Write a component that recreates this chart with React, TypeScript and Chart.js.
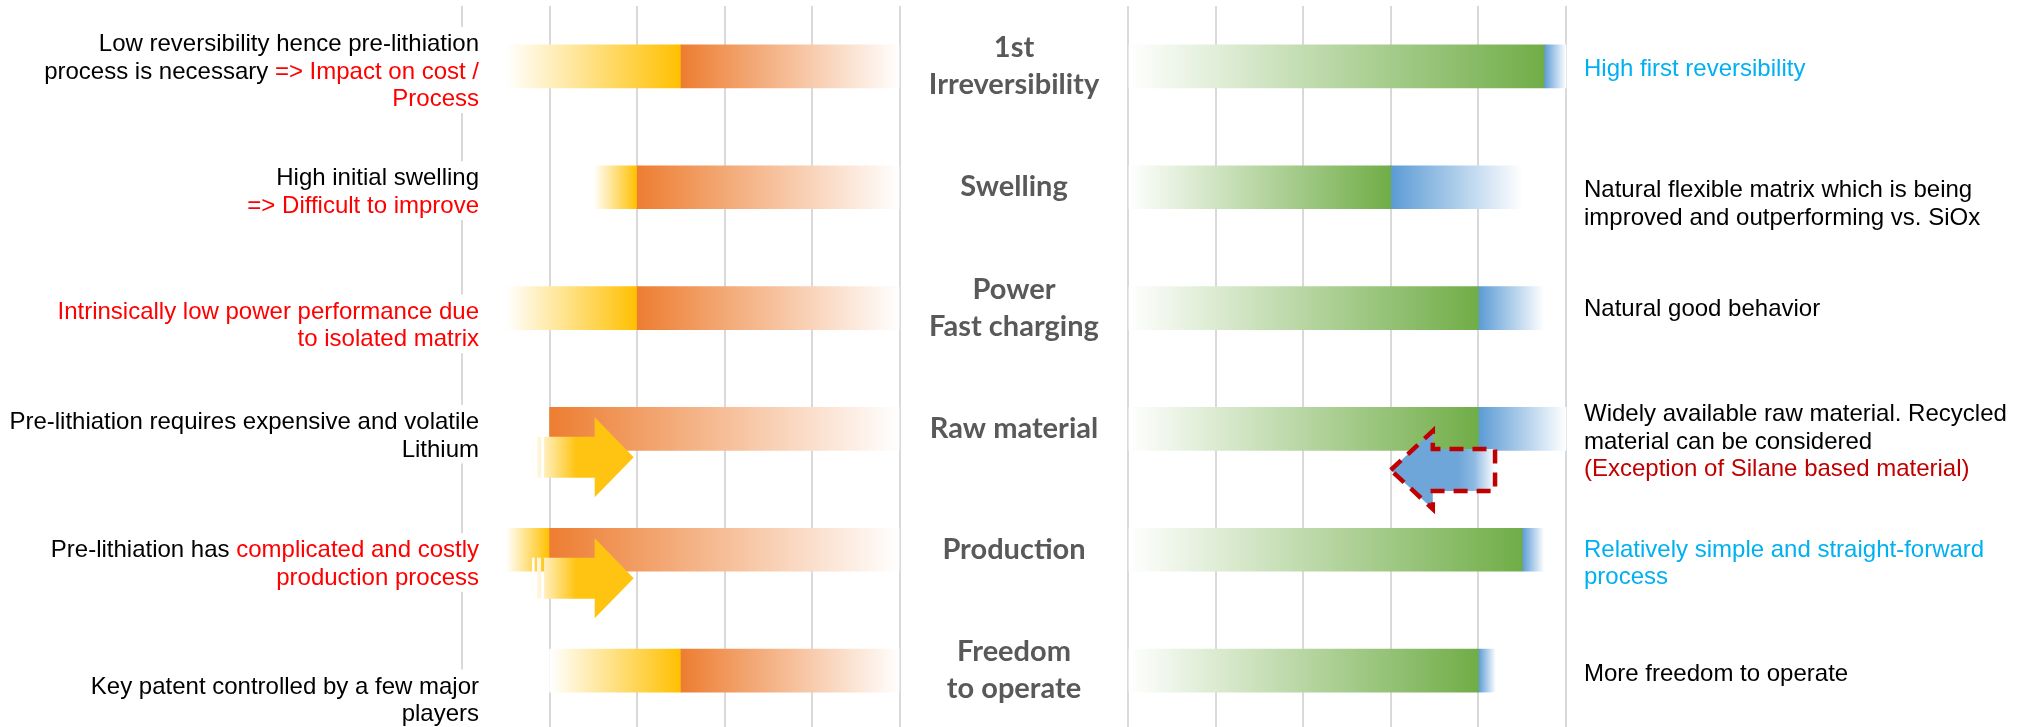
import React, { useEffect, useRef } from 'react';
import { Chart, registerables } from 'chart.js';

Chart.register(...registerables);

// ---------- DATA ----------
// Centre column (category) labels, one row per criterion
const categories: string[][] = [
  ['1st', 'Irreversibility'],
  ['Swelling'],
  ['Power', 'Fast charging'],
  ['Raw material'],
  ['Production'],
  ['Freedom', 'to operate'],
];

// Left panel (SiOx side), axis 0..5 measured from the centre outwards
const orangeLength = [2.5, 3, 3, 4, 4, 2.5];
const yellowLength = [2, 0.5, 1.5, 0, 0.5, 1.5];

// Right panel, axis 0..5 measured from the centre outwards
const greenLength = [4.75, 3, 4, 4, 4.5, 4];
const blueLength = [0.25, 1.5, 0.75, 1, 0.25, 0.2];

// Gridline tick values for both panels
const axisTicks = [0, 1, 2, 3, 4, 5];

// Arrows: row index, tail value and tip value on the panel axis
const leftArrowRows = [3, 4];
const leftArrowTail = [4.2, 4.2];
const leftArrowTip = [3.04, 3.04];
const rightArrowRows = [3];
const rightArrowTail = [4.19];
const rightArrowTip = [3.0];

// Notes: lines of [text, tone] segments
type Seg = [string, string];
const leftNotes: Seg[][][] = [
  [
    [['Low reversibility hence pre-lithiation', 'plain']],
    [['process is necessary ', 'plain'], ['=> Impact on cost /', 'warn']],
    [['Process', 'warn']],
  ],
  [
    [['High initial swelling', 'plain']],
    [['=> Difficult to improve', 'warn']],
  ],
  [
    [['Intrinsically low power performance due', 'warn']],
    [['to isolated matrix', 'warn']],
  ],
  [
    [['Pre-lithiation requires expensive and volatile', 'plain']],
    [['Lithium', 'plain']],
  ],
  [
    [['Pre-lithiation has ', 'plain'], ['complicated and costly', 'warn']],
    [['production process', 'warn']],
  ],
  [
    [['Key patent controlled by a few major', 'plain']],
    [['players', 'plain']],
  ],
];

const rightNotes: Seg[][][] = [
  [[['High first reversibility', 'good']]],
  [
    [['Natural flexible matrix which is being', 'plain']],
    [['improved and outperforming vs. SiOx', 'plain']],
  ],
  [[['Natural good behavior', 'plain']]],
  [
    [['Widely available raw material. Recycled', 'plain']],
    [['material can be considered', 'plain']],
    [['(Exception of Silane based material)', 'caveat']],
  ],
  [
    [['Relatively simple and straight-forward', 'good']],
    [['process', 'good']],
  ],
  [[['More freedom to operate', 'plain']]],
];

// ---------- LAYOUT / STYLE ----------
const W = 2032;
const H = 731;
const UNIT_PX = 87.6;
const LEFT_ZERO_PX = 900;
const RIGHT_ZERO_PX = 1128;
const LEFT_TEXT_RIGHT = 479;
const RIGHT_TEXT_LEFT = 1584;
const NOTE_LH = 27.6;
const leftNoteDy = [-15.5, -2, 10.5, 0, 7.5, 23];
const rightNoteDy = [10, 10, 8, -8, 7, 10];
const LEFT_ARROW_DY = 0.235;
const RIGHT_ARROW_DY = 0.34;

const TONE: Record<string, string> = {
  plain: '#000000',
  warn: '#FF0000',
  good: '#00B0F0',
  caveat: '#C00000',
};

function gradientFill(startColor: string, endColor: string, fallback: string) {
  return (c: any) => {
    const chart = c.chart;
    const raw = c.raw;
    if (!raw || !chart.chartArea) return fallback;
    const sc = chart.scales[c.dataset.xAxisID];
    if (!sc) return fallback;
    const p0 = sc.getPixelForValue(raw[0]);
    const p1 = sc.getPixelForValue(raw[1]);
    if (!isFinite(p0) || !isFinite(p1) || p0 === p1) return fallback;
    const g = chart.ctx.createLinearGradient(p0, 0, p1, 0);
    g.addColorStop(0, startColor);
    g.addColorStop(1, endColor);
    return g;
  };
}

function drawStripedArrow(ctx: CanvasRenderingContext2D, x0: number, x1: number, cy: number) {
  const bh = 20.5;
  const hh = 40;
  const hl = 39;
  const g = ctx.createLinearGradient(x0, 0, x0 + 44, 0);
  g.addColorStop(0, '#FFFFFF');
  g.addColorStop(1, '#FFC412');
  ctx.fillStyle = g;
  ctx.fillRect(x0, cy - bh, 2.5, 2 * bh);
  ctx.fillRect(x0 + 5, cy - bh, 4, 2 * bh);
  ctx.beginPath();
  ctx.moveTo(x0 + 12, cy - bh);
  ctx.lineTo(x1 - hl, cy - bh);
  ctx.lineTo(x1 - hl, cy - hh);
  ctx.lineTo(x1, cy);
  ctx.lineTo(x1 - hl, cy + hh);
  ctx.lineTo(x1 - hl, cy + bh);
  ctx.lineTo(x0 + 12, cy + bh);
  ctx.closePath();
  ctx.fill();
}

function drawDashedLeftArrow(ctx: CanvasRenderingContext2D, x0: number, x1: number, cy: number) {
  // x0 = tail (right), x1 = tip (left)
  const bh = 21;
  const hh = 39;
  const hl = 42;
  const g = ctx.createLinearGradient(x0, 0, x1, 0);
  g.addColorStop(0, '#FFFFFF');
  g.addColorStop(0.2, '#8DB9E2');
  g.addColorStop(0.35, '#6FA6DA');
  g.addColorStop(1, '#6FA6DA');
  ctx.beginPath();
  ctx.moveTo(x1, cy);
  ctx.lineTo(x1 + hl, cy - hh);
  ctx.lineTo(x1 + hl, cy - bh);
  ctx.lineTo(x0, cy - bh);
  ctx.lineTo(x0, cy + bh);
  ctx.lineTo(x1 + hl, cy + bh);
  ctx.lineTo(x1 + hl, cy + hh);
  ctx.closePath();
  ctx.fillStyle = g;
  ctx.fill();
  ctx.setLineDash([14, 9]);
  ctx.lineWidth = 4.5;
  ctx.strokeStyle = '#C00000';
  ctx.stroke();
  ctx.setLineDash([]);
}

function drawSegLine(ctx: CanvasRenderingContext2D, segs: Seg[], x: number, y: number, align: 'left' | 'right') {
  const widths = segs.map((s) => ctx.measureText(s[0]).width);
  const total = widths.reduce((a, b) => a + b, 0);
  let cx = align === 'right' ? x - total : x;
  ctx.textAlign = 'left';
  segs.forEach((s, k) => {
    ctx.fillStyle = TONE[s[1]];
    ctx.fillText(s[0], cx, y);
    cx += widths[k];
  });
}

const overlayPlugin = {
  id: 'overlay',
  afterDatasetsDraw(chart: any) {
    const ctx: CanvasRenderingContext2D = chart.ctx;
    const y = chart.scales.y;
    const xL = chart.scales.xL;
    const xR = chart.scales.xR;
    ctx.save();
    leftArrowRows.forEach((row, k) => {
      const tail = xL.getPixelForValue(leftArrowTail[k]);
      const tip = xL.getPixelForValue(leftArrowTip[k]);
      const cy = y.getPixelForValue(row + LEFT_ARROW_DY);
      drawStripedArrow(ctx, tail, tip, cy);
    });
    rightArrowRows.forEach((row, k) => {
      const tail = xR.getPixelForValue(rightArrowTail[k]);
      const tip = xR.getPixelForValue(rightArrowTip[k]);
      const cy = y.getPixelForValue(row + RIGHT_ARROW_DY);
      drawDashedLeftArrow(ctx, tail, tip, cy);
    });
    ctx.restore();
  },
  afterDraw(chart: any) {
    const ctx: any = chart.ctx;
    const y = chart.scales.y;
    const xL = chart.scales.xL;
    const xR = chart.scales.xR;
    ctx.save();
    ctx.textBaseline = 'alphabetic';

    // side notes
    ctx.font = '24px "Liberation Sans", Arial, sans-serif';
    ctx.letterSpacing = '0px';
    leftNotes.forEach((lines, i) => {
      const b0 = y.getPixelForValue(i) + leftNoteDy[i];
      const top = b0 - 24;
      const bottom = b0 + (lines.length - 1) * NOTE_LH + 7;
      ctx.fillStyle = '#FFFFFF';
      ctx.fillRect(0, top, LEFT_TEXT_RIGHT + 6, bottom - top);
      lines.forEach((segs, j) => drawSegLine(ctx, segs, LEFT_TEXT_RIGHT, b0 + j * NOTE_LH, 'right'));
    });
    rightNotes.forEach((lines, i) => {
      const b0 = y.getPixelForValue(i) + rightNoteDy[i];
      lines.forEach((segs, j) => drawSegLine(ctx, segs, RIGHT_TEXT_LEFT, b0 + j * NOTE_LH, 'left'));
    });

    // centre labels
    ctx.font = 'bold 29px Lato, "Open Sans", sans-serif';
    ctx.fillStyle = '#595959';
    ctx.textAlign = 'center';
    const cx = (xL.getPixelForValue(0) + xR.getPixelForValue(0)) / 2;
    categories.forEach((lines, i) => {
      const cy = y.getPixelForValue(i);
      lines.forEach((t, j) => {
        ctx.fillText(t, cx, cy + 9 + (j - (lines.length - 1) / 2) * 37);
      });
    });
    ctx.restore();
  },
};

const fixedTicks = (scale: any) => {
  scale.ticks = axisTicks.map((v) => ({ value: v }));
};

export default function App() {
  const ref = useRef<HTMLCanvasElement | null>(null);

  useEffect(() => {
    document.body.style.margin = '0';
    const canvas = ref.current;
    if (!canvas) return;
    const span = W / UNIT_PX;
    const leftMax = LEFT_ZERO_PX / UNIT_PX;
    const rightMin = -RIGHT_ZERO_PX / UNIT_PX;

    const chart = new Chart(canvas, {
      type: 'bar',
      data: {
        labels: categories.map((c) => c.join(' ')),
        datasets: [
          {
            label: 'Left base',
            xAxisID: 'xL',
            data: orangeLength.map((v) => (v > 0 ? [0, v] : null)) as any,
            backgroundColor: gradientFill('#FFFFFF', '#ED7D31', '#ED7D31') as any,
          },
          {
            label: 'Left extension',
            xAxisID: 'xL',
            data: orangeLength.map((o, i) => (yellowLength[i] > 0 ? [o, o + yellowLength[i]] : null)) as any,
            backgroundColor: gradientFill('#FFC000', '#FFFFFF', '#FFC000') as any,
          },
          {
            label: 'Right base',
            xAxisID: 'xR',
            data: greenLength.map((v) => (v > 0 ? [0, v] : null)) as any,
            backgroundColor: gradientFill('#FFFFFF', '#70AD47', '#70AD47') as any,
          },
          {
            label: 'Right extension',
            xAxisID: 'xR',
            data: greenLength.map((g, i) => (blueLength[i] > 0 ? [g, g + blueLength[i]] : null)) as any,
            backgroundColor: gradientFill('#5B9BD5', '#FFFFFF', '#5B9BD5') as any,
          },
        ],
      },
      options: {
        indexAxis: 'y',
        responsive: false,
        maintainAspectRatio: false,
        animation: false,
        events: [],
        layout: { padding: { top: 6, bottom: 0, left: 0, right: 0 } },
        datasets: { bar: { barThickness: 43, grouped: false, borderWidth: 0 } as any },
        plugins: { legend: { display: false }, tooltip: { enabled: false } },
        scales: {
          y: { type: 'category', display: false, offset: true },
          xL: {
            type: 'linear',
            position: 'bottom',
            reverse: true,
            bounds: 'data',
            min: leftMax - span,
            max: leftMax,
            afterBuildTicks: fixedTicks,
            ticks: { display: false },
            grid: { color: '#D9D9D9', lineWidth: 2, drawTicks: false },
            border: { display: false },
          },
          xR: {
            type: 'linear',
            position: 'bottom',
            bounds: 'data',
            min: rightMin,
            max: rightMin + span,
            afterBuildTicks: fixedTicks,
            ticks: { display: false },
            grid: { color: '#D9D9D9', lineWidth: 2, drawTicks: false },
            border: { display: false },
          },
        } as any,
      },
      plugins: [overlayPlugin as any],
    });
    return () => chart.destroy();
  }, []);

  return (
    <div style={{ position: 'relative', width: W, height: 727, overflow: 'hidden', background: '#FFFFFF' }}>
      <canvas ref={ref} width={W} height={H} style={{ display: 'block' }} />
    </div>
  );
}
